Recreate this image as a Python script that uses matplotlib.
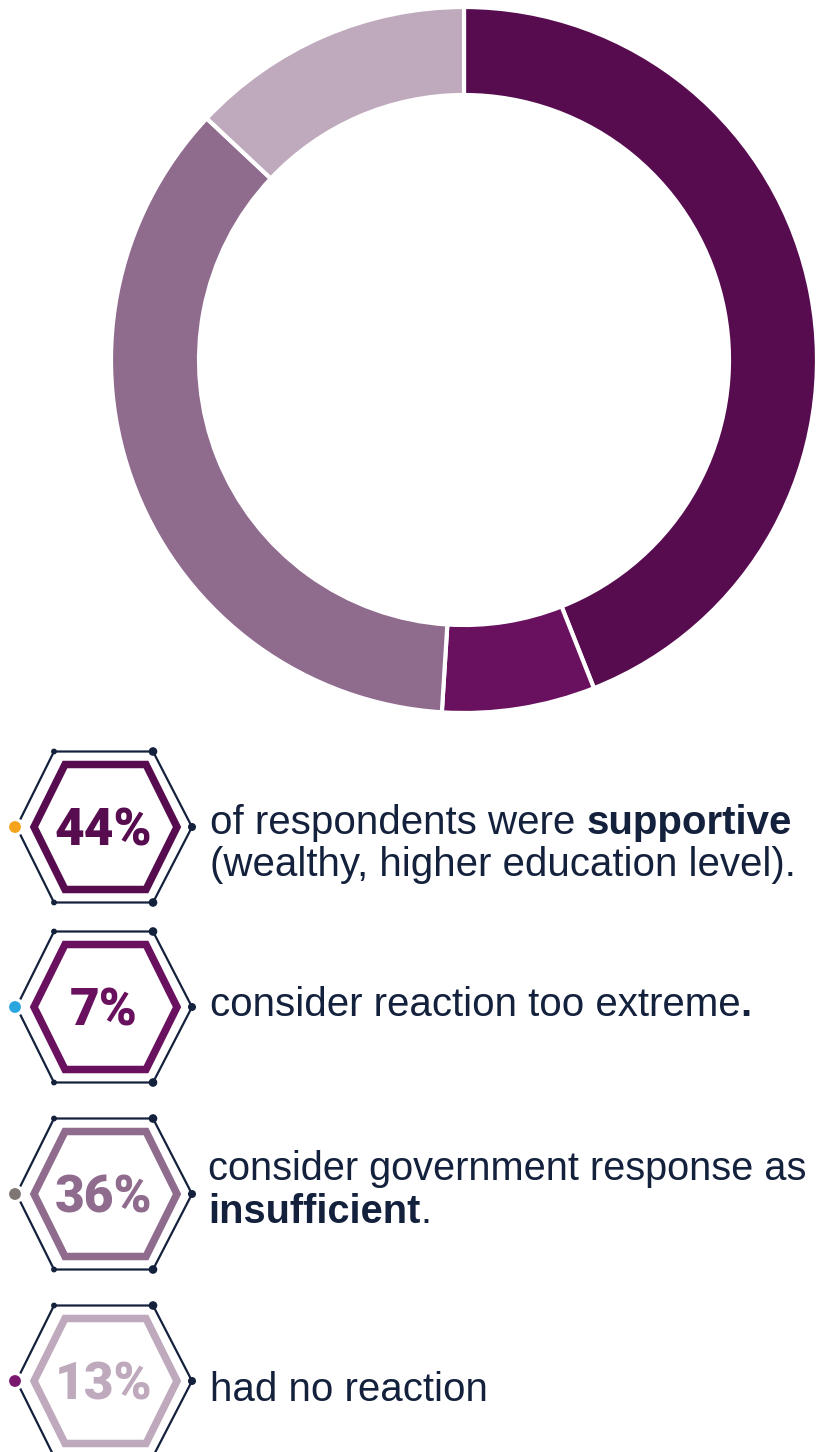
import matplotlib
matplotlib.use("Agg")
import matplotlib.pyplot as plt
from matplotlib.patches import Polygon, Circle

W, H = 817, 1452
DPI = 100

# Survey shares (percent), clockwise from 12 o'clock
shares = [44, 7, 36, 13]
share_labels = ["44%", "7%", "36%", "13%"]
share_colors = ["#580c50", "#69115f", "#8f6b8d", "#bfaabd"]
accent_dots = ["#f5a31a", "#2aa6df", "#7d7672", "#7a1870"]

# Caption lines for each share: list of lines, each a list of (text, bold)
captions = [
    [[("of respondents were ", False), ("supportive", True)],
     [("(wealthy, higher education level).", False)]],
    [[("consider reaction too extreme", False), (".", True)]],
    [[("consider government response as", False)],
     [("insufficient", True), (".", False)]],
    [[("had no reaction", False)]],
]

NAVY = "#14213d"
BODY_FONT = "Liberation Sans"
BADGE_FONT = ["Roboto", "Liberation Sans"]

fig = plt.figure(figsize=(W / DPI, H / DPI), dpi=DPI)
ax = fig.add_axes([0, 0, 1, 1])


def Y(y):
    """Convert a top-down pixel row to the axes' upward y coordinate."""
    return H - y


# Donut
ax.pie(shares, colors=share_colors, startangle=90, counterclock=False,
       radius=353, center=(464, Y(360)),
       wedgeprops=dict(width=88, edgecolor="white", linewidth=3))

ax.set_xlim(0, W)
ax.set_ylim(0, H)
ax.set_aspect("equal")
ax.axis("off")

# Badge rows
row_cy = [827, 1007, 1194, 1381]
caption_x = [210, 210, 208, 210]
caption_sizes = [29, 29, 28.6, 29]
caption_baselines = [[834, 876], [1016], [1180, 1223], [1401]]

renderer = fig.canvas.get_renderer()

for i, cy in enumerate(row_cy):
    # outer thin hexagon with a gap at the left vertex
    cx = 104
    L = (cx - 87.5, cy)
    TL = (cx - 50, cy - 75.5)
    TR = (cx + 49, cy - 75.5)
    R = (cx + 88, cy)
    BR = (cx + 49, cy + 75.5)
    BL = (cx - 50, cy + 75.5)
    f = 0.90
    upper_end = (TL[0] + (L[0] - TL[0]) * f, TL[1] + (L[1] - TL[1]) * f)
    lower_end = (BL[0] + (L[0] - BL[0]) * f, BL[1] + (L[1] - BL[1]) * f)
    pts = [upper_end, TL, TR, R, BR, BL, lower_end]
    ax.plot([p[0] for p in pts], [Y(p[1]) for p in pts], color=NAVY,
            lw=1.6, solid_joinstyle="miter", solid_capstyle="butt", zorder=3)
    for p, r in [(TL, 2.2), (TR, 3.6), (R, 3.3), (BR, 3.6), (BL, 2.2)]:
        ax.add_patch(Circle((p[0], Y(p[1])), r, color=NAVY, zorder=4))
    ax.add_patch(Circle((L[0] - 1.5, Y(cy)), 5.2, color=accent_dots[i], zorder=4))

    # inner thick coloured hexagon
    icx = 105.5
    inner = [(icx - 71.5, cy), (icx - 40.5, cy - 62.5), (icx + 40.5, cy - 62.5),
             (icx + 71.5, cy), (icx + 40.5, cy + 62.5), (icx - 40.5, cy + 62.5)]
    ax.add_patch(Polygon([(x, Y(y)) for x, y in inner], closed=True, fill=False,
                         edgecolor=share_colors[i], lw=5.4, joinstyle="miter",
                         zorder=3))
    ax.text(icx - 2, Y(cy - 1), share_labels[i], ha="center", va="center_baseline",
            fontsize=37, fontweight=900, family=BADGE_FONT,
            color=share_colors[i], zorder=5)

    # caption text, pieces placed one after another on each line
    for line, base in zip(captions[i], caption_baselines[i]):
        x = caption_x[i]
        for txt, bold in line:
            t = ax.text(x, Y(base), txt, ha="left", va="baseline",
                        fontsize=caption_sizes[i], family=BODY_FONT,
                        fontweight="bold" if bold else "normal",
                        color=NAVY, zorder=5)
            x += t.get_window_extent(renderer).width

fig.savefig("out.png", dpi=DPI, facecolor="white")
